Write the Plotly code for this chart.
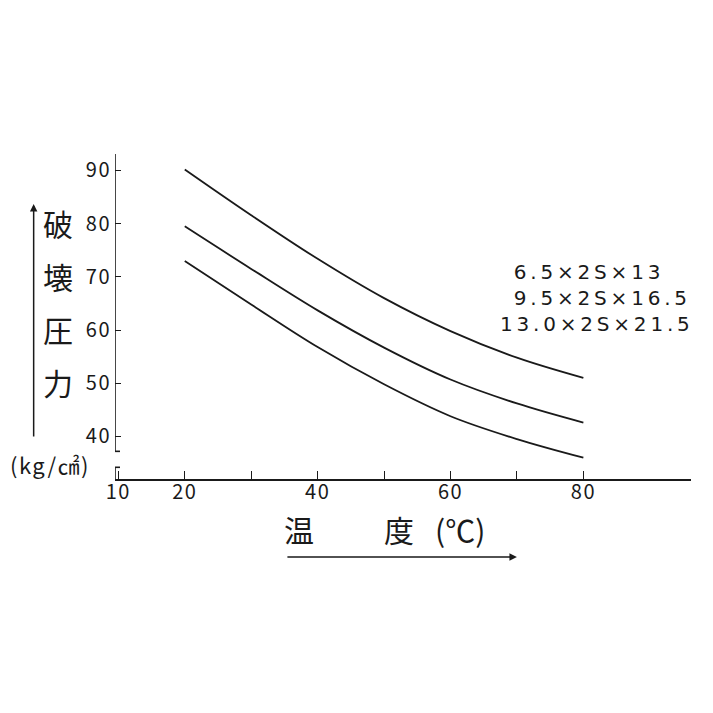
import plotly.graph_objects as go

# temperature (C) and breaking pressure (kg/cm2)
temp = [20, 30, 40, 50, 60, 70, 80]
p_13 = [90.2, 81.6, 73.4, 66.0, 59.8, 54.8, 51.0]
p_165 = [79.5, 71.5, 63.7, 56.7, 50.7, 46.2, 42.6]
p_215 = [73.0, 64.8, 56.8, 49.8, 43.8, 39.5, 36.0]
series_names = ["6.5×2S×13", "9.5×2S×16.5", "13.0×2S×21.5"]

x_ticks = [10, 20, 30, 40, 50, 60, 70, 80]
x_ticktext = ["10", "20", "", "40", "", "60", "", "80"]
y_ticks = [40, 50, 60, 70, 80, 90]

FONT = "Noto Sans CJK JP"
INK = "#1a1a1a"

# plot area as seen in the reference picture (pixels)
L, R, T, B = 114.3, 690, 153, 478
OFF = 7  # page offset of the rendered figure


def px(x):
    return (x - L) / (R - L)


def py(y):
    return (B - y) / (B - T)


def spaced(s, sp):
    return '<span style="letter-spacing:%gpx">%s</span>' % (sp, s)


fig = go.Figure()
for name, vals in zip(series_names, [p_13, p_165, p_215]):
    fig.add_trace(go.Scatter(x=temp, y=vals, name=name, mode="lines",
                             line=dict(color=INK, width=1.8, shape="spline", smoothing=1.0)))

fig.update_layout(
    width=713, height=713,
    margin=dict(l=L - OFF, r=713 - (R - OFF), t=T - OFF, b=713 - (B - OFF), pad=0),
    paper_bgcolor="white", plot_bgcolor="white",
    showlegend=False,
    font=dict(family=FONT, color=INK),
)
fig.update_xaxes(range=[9.5, 96.2], showgrid=False, zeroline=False,
                 showline=True, linecolor=INK, linewidth=1.6,
                 tickvals=x_ticks, ticktext=[spaced(t, 1.5) for t in x_ticktext],
                 ticks="inside", ticklen=8, tickwidth=1.3, tickcolor=INK,
                 ticklabelstandoff=-6,
                 tickfont=dict(size=20, family=FONT, color=INK))
fig.update_yaxes(range=[32.0, 93.1], showgrid=False, zeroline=False,
                 showline=False, tickvals=y_ticks,
                 ticktext=[spaced(str(v), 1.5) for v in y_ticks],
                 ticks="inside", ticklen=6, tickwidth=1.3, tickcolor=INK,
                 ticklabelstandoff=3,
                 tickfont=dict(size=20, family=FONT, color=INK))

# broken y axis: long segment, cap, gap, short stub down to the x axis
ax_x = 9.5
seg = dict(type="line", xref="x", yref="y", line=dict(color=INK, width=1.6))
fig.add_shape(**seg, x0=ax_x, x1=ax_x, y0=37.2, y1=93.1)
fig.add_shape(**seg, x0=ax_x - 0.75, x1=ax_x + 0.75, y0=37.2, y1=37.2)
fig.add_shape(**seg, x0=ax_x, x1=ax_x, y0=32.0, y1=34.2)
fig.add_shape(**seg, x0=ax_x - 0.75, x1=ax_x + 0.75, y0=34.2, y1=34.2)

txt = dict(xref="paper", yref="paper", showarrow=False, xanchor="center", yanchor="middle")

# y title, stacked characters
for ch, yy in zip("破壊圧力", [222, 275, 328, 381]):
    fig.add_annotation(**txt, text=ch, x=px(57), y=py(yy),
                       font=dict(size=30, family=FONT, color=INK))
fig.add_annotation(**txt, text=spaced("(kg/㎠)", 1.5), x=px(49), y=py(463),
                   font=dict(size=22, family=FONT, color=INK))
fig.add_annotation(text="", xref="paper", yref="paper", x=px(33), y=py(203),
                   ax=0, ay=234, showarrow=True, arrowhead=2, arrowsize=1,
                   arrowwidth=1.5, arrowcolor=INK)

# x title
for t, xx in zip(["温", "度", "(℃)"], [298, 398, 459]):
    fig.add_annotation(**txt, text=t, x=px(xx), y=py(528),
                       font=dict(size=30, family=FONT, color=INK))
fig.add_annotation(text="", xref="paper", yref="paper", x=px(516), y=py(556),
                   ax=-231, ay=0, showarrow=True, arrowhead=2, arrowsize=1,
                   arrowwidth=1.5, arrowcolor=INK)

# series labels, one block; the two shorter names are indented
indent = ["\u2002", "\u2002", ""]
label_block = "<br>".join(spaced(i + n, 3.8) for i, n in zip(indent, series_names))
fig.add_annotation(text=label_block, xref="paper", yref="paper",
                   x=px(497), y=py(297), xanchor="left", yanchor="middle",
                   align="left", showarrow=False,
                   font=dict(size=20, family="DejaVu Sans", color=INK))

fig.write_html("out.html")
